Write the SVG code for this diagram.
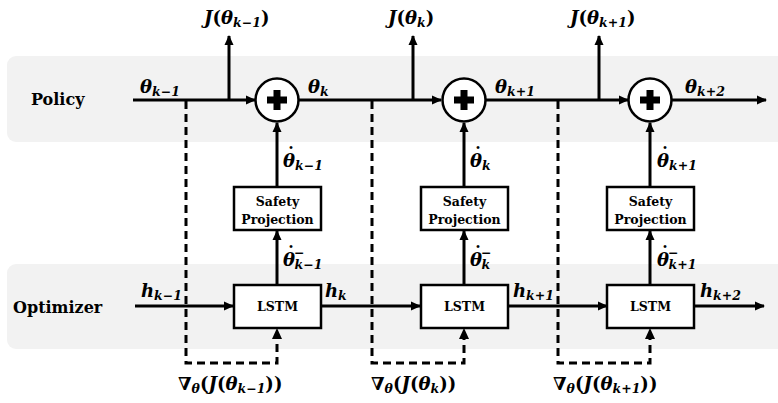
<svg xmlns="http://www.w3.org/2000/svg" width="778" height="403" viewBox="0 0 778 403">
<defs>
<marker id="ah" markerWidth="10" markerHeight="10" viewBox="0 0 10 10" refX="9" refY="5" orient="auto" markerUnits="userSpaceOnUse">
<path d="M0,0.5 L10,5 L0,9.5 Z" fill="#000"/>
</marker>
<style>
.band{fill:#f2f2f2}
.ar{stroke:#000;stroke-width:3;fill:none;marker-end:url(#ah)}
.dsh{stroke:#000;stroke-width:3;fill:none;stroke-dasharray:8 5}
.box{fill:#fff;stroke:#000;stroke-width:2.5}
.lbl{font-family:"DejaVu Serif",serif;font-weight:bold;fill:#000}
.big{font-size:16px}
.bt{font-size:12.5px;text-anchor:middle}
.m{font-family:"DejaVu Serif",serif;font-weight:bold;font-style:italic;font-size:18px;fill:#000}
.s{font-size:12.5px}
.up{font-style:normal}
.dot{font-style:normal;font-size:20px}
</style>
</defs>
<rect class="band" x="7" y="56" width="800" height="86" rx="9"/>
<rect class="band" x="7" y="264" width="800" height="85" rx="9"/>
<text class="lbl big" x="31" y="105">Policy</text>
<text class="lbl big" x="13" y="313">Optimizer</text>

<g id="connectors">
<line class="ar" x1="133" y1="100" x2="255" y2="100"/>
<line class="ar" x1="299" y1="100" x2="441" y2="100"/>
<line class="ar" x1="485" y1="100" x2="628" y2="100"/>
<line class="ar" x1="672" y1="100" x2="766" y2="100"/>
<line class="ar" x1="229" y1="100" x2="229" y2="36"/>
<line class="ar" x1="413" y1="100" x2="413" y2="36"/>
<line class="ar" x1="599" y1="100" x2="599" y2="36"/>
<line class="ar" x1="277" y1="186" x2="277" y2="123"/>
<line class="ar" x1="464" y1="186" x2="464" y2="123"/>
<line class="ar" x1="650" y1="186" x2="650" y2="123"/>
<line class="ar" x1="277" y1="284" x2="277" y2="231"/>
<line class="ar" x1="464" y1="284" x2="464" y2="231"/>
<line class="ar" x1="650" y1="284" x2="650" y2="231"/>
<line class="ar" x1="135" y1="306" x2="233" y2="306"/>
<line class="ar" x1="322" y1="306" x2="420" y2="306"/>
<line class="ar" x1="508" y1="306" x2="607" y2="306"/>
<line class="ar" x1="694" y1="306" x2="764" y2="306"/>
<path class="dsh" d="M186,101 V363 H277 V338"/>
<path class="dsh" d="M372,101 V363 H464 V338"/>
<path class="dsh" d="M558,101 V363 H650 V338"/>
<path d="M277,328 L272,339 L282,339 Z" fill="#000"/>
<path d="M464,328 L459,339 L469,339 Z" fill="#000"/>
<path d="M650,328 L645,339 L655,339 Z" fill="#000"/>
</g>

<g id="sum1"><circle class="box" cx="277" cy="100" r="21.5"/><path d="M273.5,90 h7 v6.5 h6.5 v7 h-6.5 v6.5 h-7 v-6.5 h-6.5 v-7 h6.5 Z" fill="#000"/></g>
<g id="sum2"><circle class="box" cx="464" cy="100" r="21.5"/><path d="M460.5,90 h7 v6.5 h6.5 v7 h-6.5 v6.5 h-7 v-6.5 h-6.5 v-7 h6.5 Z" fill="#000"/></g>
<g id="sum3"><circle class="box" cx="650" cy="100" r="21.5"/><path d="M646.5,90 h7 v6.5 h6.5 v7 h-6.5 v6.5 h-7 v-6.5 h-6.5 v-7 h6.5 Z" fill="#000"/></g>

<g id="safety1"><rect class="box" x="234" y="187" width="87" height="43"/><text class="lbl bt" x="277.5" y="206">Safety</text><text class="lbl bt" x="277.5" y="224">Projection</text></g>
<g id="safety2"><rect class="box" x="421" y="187" width="87" height="43"/><text class="lbl bt" x="464.5" y="206">Safety</text><text class="lbl bt" x="464.5" y="224">Projection</text></g>
<g id="safety3"><rect class="box" x="607" y="187" width="87" height="43"/><text class="lbl bt" x="650.5" y="206">Safety</text><text class="lbl bt" x="650.5" y="224">Projection</text></g>

<g id="lstm1"><rect class="box" x="234" y="285" width="87" height="43"/><text class="lbl bt" x="277.5" y="311">LSTM</text></g>
<g id="lstm2"><rect class="box" x="421" y="285" width="87" height="43"/><text class="lbl bt" x="464.5" y="311">LSTM</text></g>
<g id="lstm3"><rect class="box" x="607" y="285" width="87" height="43"/><text class="lbl bt" x="650.5" y="311">LSTM</text></g>

<g id="labels">
<text class="m" x="204" y="24">J<tspan class="up">(</tspan>θ<tspan class="s" dy="3">k−1</tspan><tspan class="up" dy="-3">)</tspan></text>
<text class="m" x="388" y="24">J<tspan class="up">(</tspan>θ<tspan class="s" dy="3">k</tspan><tspan class="up" dy="-3">)</tspan></text>
<text class="m" x="570" y="24">J<tspan class="up">(</tspan>θ<tspan class="s" dy="3">k+1</tspan><tspan class="up" dy="-3">)</tspan></text>

<text class="m" x="140" y="93">θ<tspan class="s" dy="3">k−1</tspan></text>
<text class="m" x="308" y="93">θ<tspan class="s" dy="3">k</tspan></text>
<text class="m" x="495" y="93">θ<tspan class="s" dy="3">k+1</tspan></text>
<text class="m" x="685" y="93">θ<tspan class="s" dy="3">k+2</tspan></text>

<text class="m" x="283" y="167">θ<tspan class="dot" dx="-9" dy="-5">˙</tspan><tspan class="s" dx="-1" dy="8">k−1</tspan></text>
<text class="m" x="470" y="167">θ<tspan class="dot" dx="-9" dy="-5">˙</tspan><tspan class="s" dx="-1" dy="8">k</tspan></text>
<text class="m" x="657" y="167">θ<tspan class="dot" dx="-9" dy="-5">˙</tspan><tspan class="s" dx="-1" dy="8">k+1</tspan></text>

<text class="m" x="283" y="266">θ<tspan class="dot" dx="-9" dy="-5">˙</tspan><tspan class="s up" dx="-2" dy="-4">−</tspan><tspan class="s" dx="-10" dy="12">k−1</tspan></text>
<text class="m" x="470" y="266">θ<tspan class="dot" dx="-9" dy="-5">˙</tspan><tspan class="s up" dx="-2" dy="-4">−</tspan><tspan class="s" dx="-10" dy="12">k</tspan></text>
<text class="m" x="657" y="266">θ<tspan class="dot" dx="-9" dy="-5">˙</tspan><tspan class="s up" dx="-2" dy="-4">−</tspan><tspan class="s" dx="-10" dy="12">k+1</tspan></text>

<text class="m" x="141" y="297">h<tspan class="s" dy="3">k−1</tspan></text>
<text class="m" x="325" y="297">h<tspan class="s" dy="3">k</tspan></text>
<text class="m" x="513" y="297">h<tspan class="s" dy="3">k+1</tspan></text>
<text class="m" x="700" y="297">h<tspan class="s" dy="3">k+2</tspan></text>

<text class="m" x="178" y="390"><tspan class="up">∇</tspan><tspan class="s" dy="3">θ</tspan><tspan class="up" dy="-3">(</tspan>J<tspan class="up">(</tspan>θ<tspan class="s" dy="3">k−1</tspan><tspan class="up" dy="-3">))</tspan></text>
<text class="m" x="371" y="390"><tspan class="up">∇</tspan><tspan class="s" dy="3">θ</tspan><tspan class="up" dy="-3">(</tspan>J<tspan class="up">(</tspan>θ<tspan class="s" dy="3">k</tspan><tspan class="up" dy="-3">))</tspan></text>
<text class="m" x="553" y="390"><tspan class="up">∇</tspan><tspan class="s" dy="3">θ</tspan><tspan class="up" dy="-3">(</tspan>J<tspan class="up">(</tspan>θ<tspan class="s" dy="3">k+1</tspan><tspan class="up" dy="-3">))</tspan></text>
</g>
</svg>
